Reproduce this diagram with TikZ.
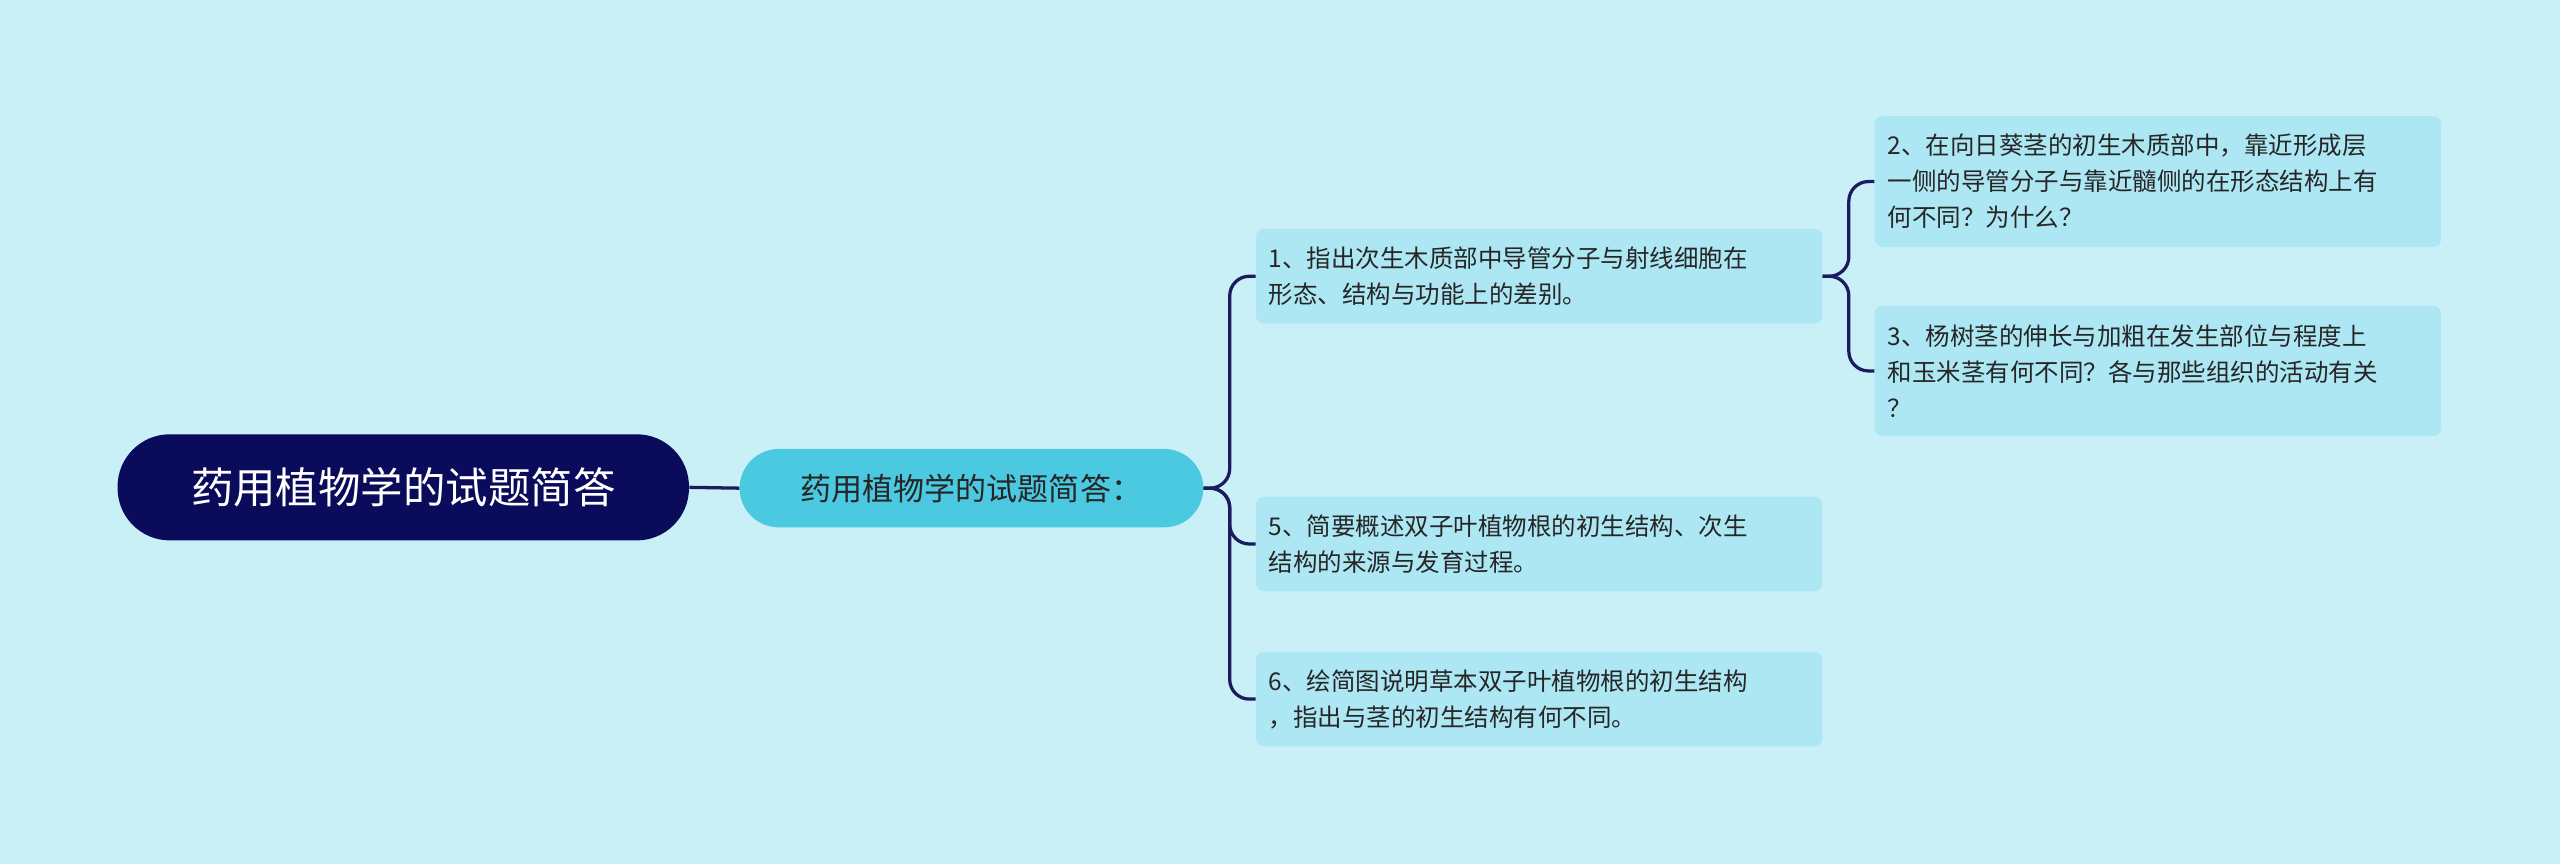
\documentclass[tikz,border=0pt]{standalone}
\usepackage{fontspec}
\setmainfont{Noto Sans CJK SC}
\definecolor{bg}{HTML}{C9F0F7}
\definecolor{navy}{HTML}{0B0B5C}
\definecolor{mid}{HTML}{4BC9E1}
\definecolor{leaf}{HTML}{ADE7F3}
\definecolor{ln}{HTML}{1B1B5E}
\begin{document}
\begin{tikzpicture}[x=1pt,y=-1pt,
  leafbox/.style={fill=leaf,rounded corners=5pt,minimum width=347pt,text width=331pt,align=left,inner xsep=8pt,anchor=north west,font=\fontsize{15}{22}\selectfont,text=black!85},
  conn/.style={draw=ln,line width=2pt,rounded corners=12pt}]
\fill[bg] (0,0) rectangle (1568,529);
\useasboundingbox (0,0) rectangle (1568,529);
\node[fill=navy,rounded corners=32pt,minimum width=350pt,minimum height=65pt,text=white,font=\fontsize{26}{30}\selectfont] (root) at (247,298.5) {药用植物学的试题简答};
\node[fill=mid,rounded corners=24pt,minimum width=284pt,minimum height=48pt,text=black!85,font=\fontsize{19}{22}\selectfont] (main) at (595,299) {药用植物学的试题简答：};
\node[leafbox,minimum height=58pt] (a) at (769,140) {1、指出次生木质部中导管分子与射线细胞在\\形态、结构与功能上的差别。};
\node[leafbox,minimum height=58pt] (e) at (769,304) {5、简要概述双子叶植物根的初生结构、次生\\结构的来源与发育过程。};
\node[leafbox,minimum height=58pt] (f) at (769,399) {6、绘简图说明草本双子叶植物根的初生结构\\，指出与茎的初生结构有何不同。};
\node[leafbox,minimum height=80pt] (b) at (1148,71) {2、在向日葵茎的初生木质部中，靠近形成层\\一侧的导管分子与靠近髓侧的在形态结构上有\\何不同？为什么？};
\node[leafbox,minimum height=80pt] (c) at (1148,187) {3、杨树茎的伸长与加粗在发生部位与程度上\\和玉米茎有何不同？各与那些组织的活动有关\\？};
\draw[conn] (root.east) -- (main.west);
\foreach \t in {a,e,f} \draw[conn] (main.east) -- ++(16,0) |- (\t.west);
\foreach \t in {b,c} \draw[conn] (a.east) -- ++(16,0) |- (\t.west);
\end{tikzpicture}
\end{document}
